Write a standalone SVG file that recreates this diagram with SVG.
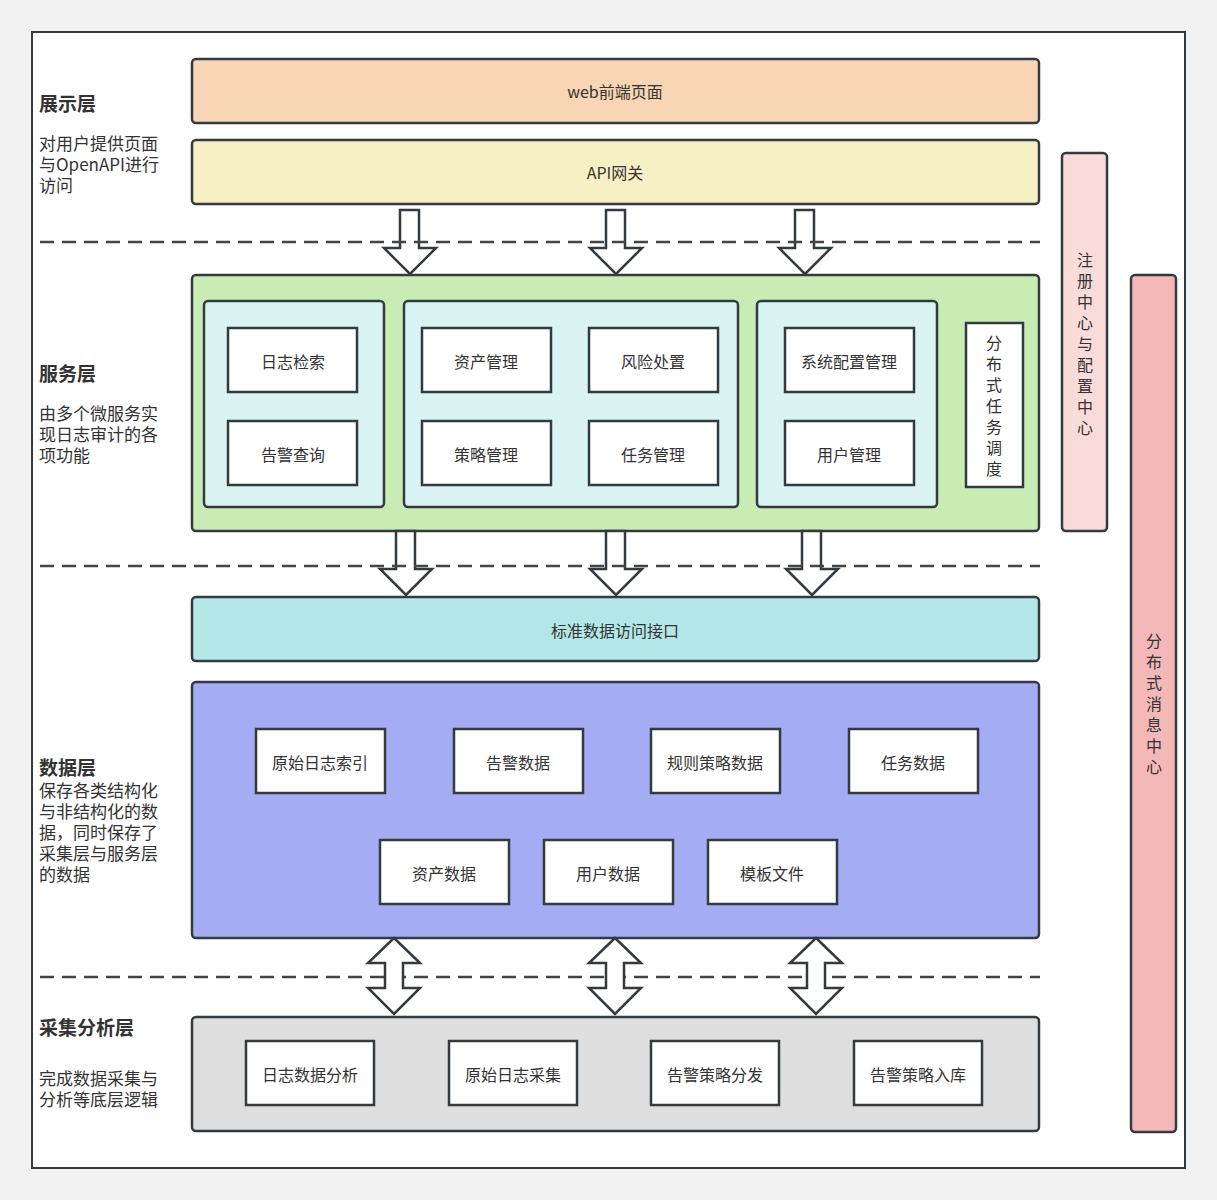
<svg xmlns="http://www.w3.org/2000/svg" width="1217" height="1200" viewBox="0 0 1217 1200">
<style>
text{font-family:"Noto Sans CJK SC","Noto Sans",sans-serif;fill:#333;font-size:16px}
.l{font-size:17px}
.c{text-anchor:middle;dominant-baseline:central}
.h{font-weight:bold;font-size:19px}
.b{stroke:#333a40;stroke-width:2.5}
.w{fill:#fff;stroke:#333a40;stroke-width:2.5}
.d{stroke:#444;stroke-width:2.5;stroke-dasharray:14 8;fill:none}
.ar{fill:#fff;stroke:#333a40;stroke-width:2.5;stroke-linejoin:miter}
</style>
<rect width="1217" height="1200" fill="#f2f2f2"/>
<rect x="32" y="32" width="1153" height="1136" fill="#fff" stroke="#333a40" stroke-width="2"/>
<g id="labels">
<text x="39" y="111" class="h">展示层</text>
<text x="39" y="150" class="l">对用户提供页面</text><text x="39" y="171" class="l">与OpenAPI进行</text><text x="39" y="192" class="l">访问</text>
<text x="39" y="381" class="h">服务层</text>
<text x="39" y="420" class="l">由多个微服务实</text><text x="39" y="441" class="l">现日志审计的各</text><text x="39" y="462" class="l">项功能</text>
<text x="39" y="775" class="h">数据层</text>
<text x="39" y="797" class="l">保存各类结构化</text><text x="39" y="818" class="l">与非结构化的数</text><text x="39" y="839" class="l">据，同时保存了</text><text x="39" y="860" class="l">采集层与服务层</text><text x="39" y="881" class="l">的数据</text>
<text x="39" y="1035" class="h">采集分析层</text>
<text x="39" y="1085" class="l">完成数据采集与</text><text x="39" y="1106" class="l">分析等底层逻辑</text>
</g>
<g id="web"><rect x="192" y="59" width="847" height="64" rx="4" fill="#f8d5b4" class="b"/><text x="615" y="91" class="c">web前端页面</text></g>
<g id="api"><rect x="192" y="140" width="847" height="64" rx="4" fill="#f7f0c4" class="b"/><text x="615" y="172" class="c">API网关</text></g>
<g id="reg"><rect x="1062" y="153" width="45" height="378" rx="4" fill="#f9dcda" class="b"/>
<text x="1085" y="259" class="c">注</text><text x="1085" y="280" class="c">册</text><text x="1085" y="301" class="c">中</text><text x="1085" y="322" class="c">心</text><text x="1085" y="343" class="c">与</text><text x="1085" y="364" class="c">配</text><text x="1085" y="385" class="c">置</text><text x="1085" y="406" class="c">中</text><text x="1085" y="427" class="c">心</text></g>
<g id="mq"><rect x="1131" y="275" width="45" height="857" rx="4" fill="#f4b8b8" class="b"/>
<text x="1154" y="640" class="c">分</text><text x="1154" y="661" class="c">布</text><text x="1154" y="682" class="c">式</text><text x="1154" y="703" class="c">消</text><text x="1154" y="724" class="c">息</text><text x="1154" y="745" class="c">中</text><text x="1154" y="766" class="c">心</text></g>
<g id="service"><rect x="192" y="275" width="847" height="256" rx="4" fill="#c9ecb4" class="b"/>
<rect x="204" y="301" width="180" height="206" rx="4" fill="#daf4f4" class="b"/>
<rect x="404" y="301" width="334" height="206" rx="4" fill="#daf4f4" class="b"/>
<rect x="757" y="301" width="180" height="206" rx="4" fill="#daf4f4" class="b"/></g>
<g id="n1"><rect x="228" y="328" width="129" height="64" class="w"/><text x="293" y="361" class="c">日志检索</text></g>
<g id="n2"><rect x="228" y="421" width="129" height="64" class="w"/><text x="293" y="454" class="c">告警查询</text></g>
<g id="n3"><rect x="422" y="328" width="129" height="64" class="w"/><text x="486" y="361" class="c">资产管理</text></g>
<g id="n4"><rect x="589" y="328" width="129" height="64" class="w"/><text x="653" y="361" class="c">风险处置</text></g>
<g id="n5"><rect x="422" y="421" width="129" height="64" class="w"/><text x="486" y="454" class="c">策略管理</text></g>
<g id="n6"><rect x="589" y="421" width="129" height="64" class="w"/><text x="653" y="454" class="c">任务管理</text></g>
<g id="n7"><rect x="785" y="328" width="129" height="64" class="w"/><text x="849" y="361" class="c">系统配置管理</text></g>
<g id="n8"><rect x="785" y="421" width="129" height="64" class="w"/><text x="849" y="454" class="c">用户管理</text></g>
<g id="n9"><rect x="966" y="323" width="57" height="164" class="w"/>
<text x="994" y="342" class="c">分</text><text x="994" y="363" class="c">布</text><text x="994" y="384" class="c">式</text><text x="994" y="405" class="c">任</text><text x="994" y="426" class="c">务</text><text x="994" y="447" class="c">调</text><text x="994" y="468" class="c">度</text></g>
<g id="std"><rect x="192" y="597" width="847" height="64" rx="4" fill="#b4e8e8" class="b"/><text x="615" y="630" class="c">标准数据访问接口</text></g>
<g id="data"><rect x="192" y="682" width="847" height="256" rx="4" fill="#a4acf4" class="b"/></g>
<g id="d1"><rect x="256" y="729" width="129" height="64" class="w"/><text x="320" y="762" class="c">原始日志索引</text></g>
<g id="d2"><rect x="454" y="729" width="129" height="64" class="w"/><text x="518" y="762" class="c">告警数据</text></g>
<g id="d3"><rect x="651" y="729" width="129" height="64" class="w"/><text x="715" y="762" class="c">规则策略数据</text></g>
<g id="d4"><rect x="849" y="729" width="129" height="64" class="w"/><text x="913" y="762" class="c">任务数据</text></g>
<g id="d5"><rect x="380" y="840" width="129" height="64" class="w"/><text x="444" y="873" class="c">资产数据</text></g>
<g id="d6"><rect x="544" y="840" width="129" height="64" class="w"/><text x="608" y="873" class="c">用户数据</text></g>
<g id="d7"><rect x="708" y="840" width="129" height="64" class="w"/><text x="772" y="873" class="c">模板文件</text></g>
<g id="collect"><rect x="192" y="1017" width="847" height="114" rx="4" fill="#dedede" class="b"/></g>
<g id="c1"><rect x="246" y="1041" width="128" height="64" class="w"/><text x="310" y="1074" class="c">日志数据分析</text></g>
<g id="c2"><rect x="449" y="1041" width="128" height="64" class="w"/><text x="513" y="1074" class="c">原始日志采集</text></g>
<g id="c3"><rect x="651" y="1041" width="128" height="64" class="w"/><text x="715" y="1074" class="c">告警策略分发</text></g>
<g id="c4"><rect x="854" y="1041" width="128" height="64" class="w"/><text x="918" y="1074" class="c">告警策略入库</text></g>
<g id="connectors">
<path class="ar" d="M400 210h19v38h17l-26 26l-26-26h16z"/>
<path class="ar" d="M606 210h19v38h17l-26 26l-26-26h16z"/>
<path class="ar" d="M795 210h19v38h17l-26 26l-26-26h16z"/>
<path class="ar" d="M396 531h19v38h17l-26 26l-26-26h16z"/>
<path class="ar" d="M606 531h19v38h17l-26 26l-26-26h16z"/>
<path class="ar" d="M802 531h19v38h17l-26 26l-26-26h16z"/>
<line class="d" x1="40" y1="242" x2="1040" y2="242"/>
<line class="d" x1="40" y1="566" x2="1040" y2="566"/>
<line class="d" x1="40" y1="977" x2="1040" y2="977"/>
<path class="ar" d="M394 938l26 25h-17v25h17l-26 26l-26-26h17v-25h-17z"/>
<path class="ar" d="M615 938l26 25h-17v25h17l-26 26l-26-26h17v-25h-17z"/>
<path class="ar" d="M816 938l26 25h-17v25h17l-26 26l-26-26h17v-25h-17z"/>
</g>
</svg>
